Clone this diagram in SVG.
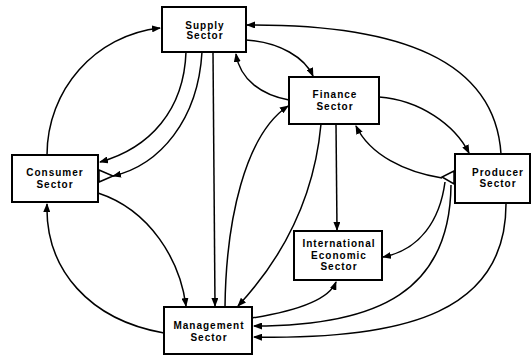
<svg xmlns="http://www.w3.org/2000/svg" width="532" height="356" viewBox="0 0 532 356">
<style>
.box{fill:#fff;stroke:#000;stroke-width:2}
.lbl{font-family:"Liberation Sans",Arial,sans-serif;font-weight:bold;font-size:10px;letter-spacing:1px;text-anchor:middle;fill:#000}
.c{fill:none;stroke:#000;stroke-width:1.5;marker-end:url(#ah)}
.tri{fill:#fff;stroke:#000;stroke-width:1.5}
</style>
<defs>
<marker id="ah" markerUnits="userSpaceOnUse" markerWidth="9" markerHeight="7" refX="8" refY="3.5" orient="auto">
<path d="M0,0 L9,3.5 L0,7 z" fill="#000"/>
</marker>
</defs>
<rect width="532" height="356" fill="#fff"/>
<g id="connectors">
<path class="c" d="M47,155 C47,90 95,35 160,28"/>
<path class="c" d="M186,52 C184,110 150,148 100,162"/>
<path class="c" d="M202,52 C198,120 160,165 113,176"/>
<path class="c" d="M98,193 C150,210 180,260 186,306"/>
<path class="c" d="M164,333 C90,320 45,270 47,204"/>
<path class="c" d="M213,52 L215,306"/>
<path class="c" d="M225,307 C226,220 245,135 288,106"/>
<path class="c" d="M321,124 C315,190 290,250 238,306"/>
<path class="c" d="M336,124 L337,230"/>
<path class="c" d="M289,100 C262,95 240,80 236,54"/>
<path class="c" d="M246,40 C280,42 305,58 313,76"/>
<path class="c" d="M501,154 C495,60 400,24 247,25"/>
<path class="c" d="M379,97 C420,100 455,125 469,153"/>
<path class="c" d="M442,178 C405,172 370,155 356,126"/>
<path class="c" d="M445,182 C440,220 420,250 383,257"/>
<path class="c" d="M252,318 C290,312 328,302 336,282"/>
<path class="c" d="M451,185 C450,290 380,326 254,326"/>
<path class="c" d="M506,204 C506,310 410,340 254,337"/>
</g>
<g id="supply">
<rect class="box" x="162" y="7" width="84" height="45"/>
<text class="lbl" x="205" y="29">Supply</text>
<text class="lbl" x="205" y="39">Sector</text>
</g>
<g id="finance">
<rect class="box" x="289" y="77" width="90" height="47"/>
<text class="lbl" x="335" y="98">Finance</text>
<text class="lbl" x="335" y="110">Sector</text>
</g>
<g id="consumer">
<rect class="box" x="12" y="155" width="86" height="47"/>
<text class="lbl" x="55" y="176">Consumer</text>
<text class="lbl" x="55" y="188">Sector</text>
<polygon class="tri" points="99,170 113,176 99,182"/>
</g>
<g id="producer">
<rect class="box" x="455" y="154" width="75" height="49"/>
<text class="lbl" x="498" y="176">Producer</text>
<text class="lbl" x="498" y="187">Sector</text>
<polygon class="tri" points="454,171 442,177 454,184"/>
</g>
<g id="international">
<rect class="box" x="294" y="231" width="88" height="49"/>
<text class="lbl" x="339" y="247">International</text>
<text class="lbl" x="339" y="259">Economic</text>
<text class="lbl" x="339" y="270">Sector</text>
</g>
<g id="management">
<rect class="box" x="164" y="307" width="88" height="47"/>
<text class="lbl" x="209" y="329">Management</text>
<text class="lbl" x="209" y="341">Sector</text>
</g>
</svg>
